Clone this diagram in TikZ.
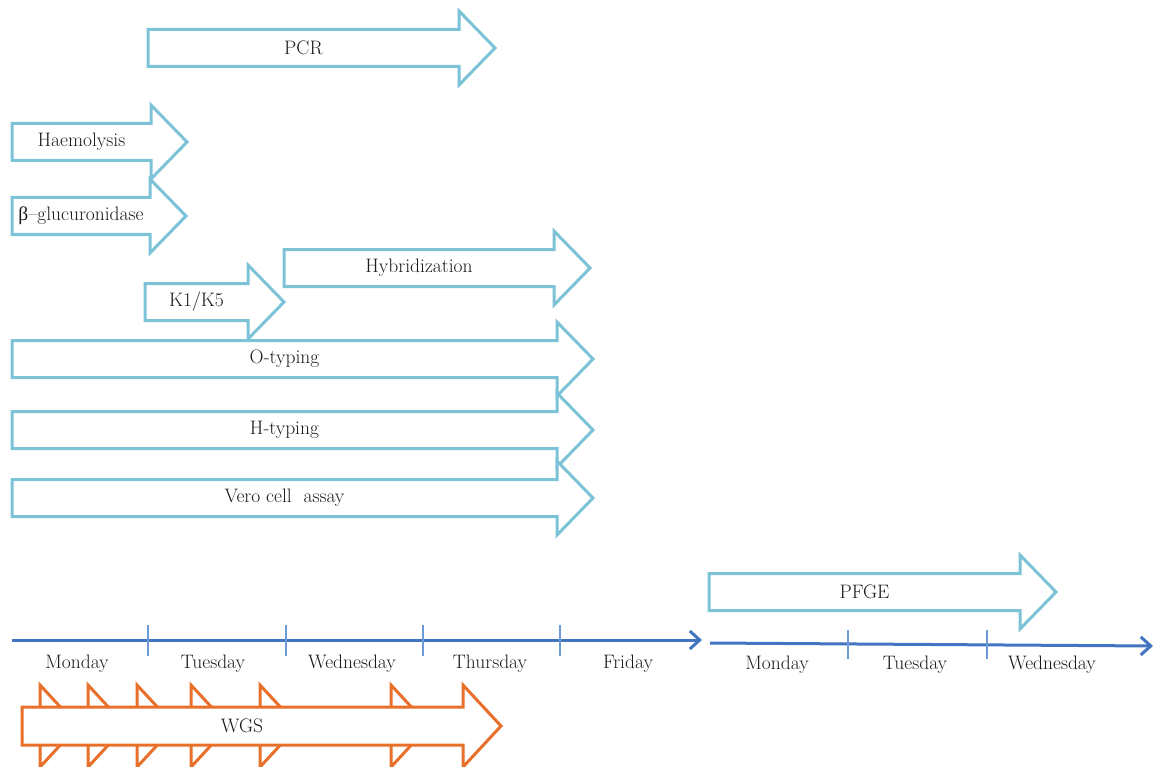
\documentclass[tikz,border=0pt]{standalone}
\usepackage{fontspec}
\usetikzlibrary{arrows.meta}
\newfontfamily\grkfont{Liberation Serif}
\definecolor{taskblue}{HTML}{7CC3D8}
\definecolor{wgsorange}{HTML}{E8702A}
\definecolor{axisblue}{HTML}{4374C1}
\definecolor{tickblue}{HTML}{6C9BD6}
\definecolor{labelgrey}{HTML}{1A1A1A}

% block arrow: [style] {left x} {tip x} {centre y} {name} {label}
\newcommand{\taskarrow}[6][task]{%
  \draw[#1] (#2,#4-18.5) -- (#3-36,#4-18.5) -- (#3-36,#4-37) -- (#3,#4)
    -- (#3-36,#4+37) -- (#3-36,#4+18.5) -- (#2,#4+18.5) -- cycle;
  \node[lbl] (#5) at ({(#2+#3-36)/2},#4) {#6};
}

\begin{document}
\begin{tikzpicture}[
  x=1pt, y=-1pt,
  every node/.style={font=\fontsize{19.5}{22}\selectfont, text=labelgrey},
  task/.style={draw=taskblue, line width=3pt, fill=white, line join=miter},
  wgs/.style={draw=wgsorange, line width=3pt, fill=white, line join=miter},
  lbl/.style={inner sep=0pt},
  day/.style={inner sep=0pt},
  axis/.style={draw=axisblue, line width=3pt, -{Straight Barb[length=10pt,width=18pt]}},
  tick/.style={draw=tickblue, line width=1.5pt},
]
\useasboundingbox (0,0) rectangle (1155,767);

% tasks
\taskarrow{148}{495}{48}{pcr}{PCR}
\taskarrow{12}{187}{142}{haem}{Haemolysis}
\taskarrow{12}{186}{216}{gluc}{{\grkfont β}--glucuronidase}
\taskarrow{284}{590}{268}{hyb}{Hybridization}
\taskarrow{145}{284}{302}{kone}{K1/K5}
\taskarrow{12}{593}{359}{otyp}{O-typing}
\taskarrow{12}{593}{430}{htyp}{H-typing}
\taskarrow{12}{593}{498}{vero}{Vero cell\ \ assay}
\taskarrow{709}{1056}{592}{pfge}{PFGE}

% first week
\coordinate (axa) at (12,640);
\coordinate (axb) at (702,640);
\draw[axis] (axa) -- (axb);
\foreach \tx in {148,286,423,560}
  \draw[tick] (\tx,625) -- (\tx,656);
\node[day] (mona) at (77,664) {Monday};
\node[day] (tuea) at (213,664) {Tuesday};
\node[day] (weda) at (352,664) {Wednesday};
\node[day] (thua) at (490,664) {Thursday};
\node[day] (fria) at (628,664) {Friday};

% second week
\coordinate (axc) at (710,643);
\coordinate (axd) at (1153,646);
\draw[axis] (axc) -- (axd);
\foreach \tx in {848,987}
  \draw[tick] (\tx,630) -- (\tx,659);
\node[day] (monb) at (777,665) {Monday};
\node[day] (tueb) at (915,665) {Tuesday};
\node[day] (wedb) at (1052,665) {Wednesday};

% WGS, stacked heads behind the main arrow
\foreach \hx in {40,88,137,191,260,391}
  \draw[wgs] (\hx,685) -- (\hx+38,726) -- (\hx,767) -- cycle;
\draw[wgs] (22,707) -- (463,707) -- (463,685) -- (501,726)
  -- (463,767) -- (463,745) -- (22,745) -- cycle;
\node[lbl] (wgslbl) at (242,726) {WGS};
\end{tikzpicture}
\end{document}
